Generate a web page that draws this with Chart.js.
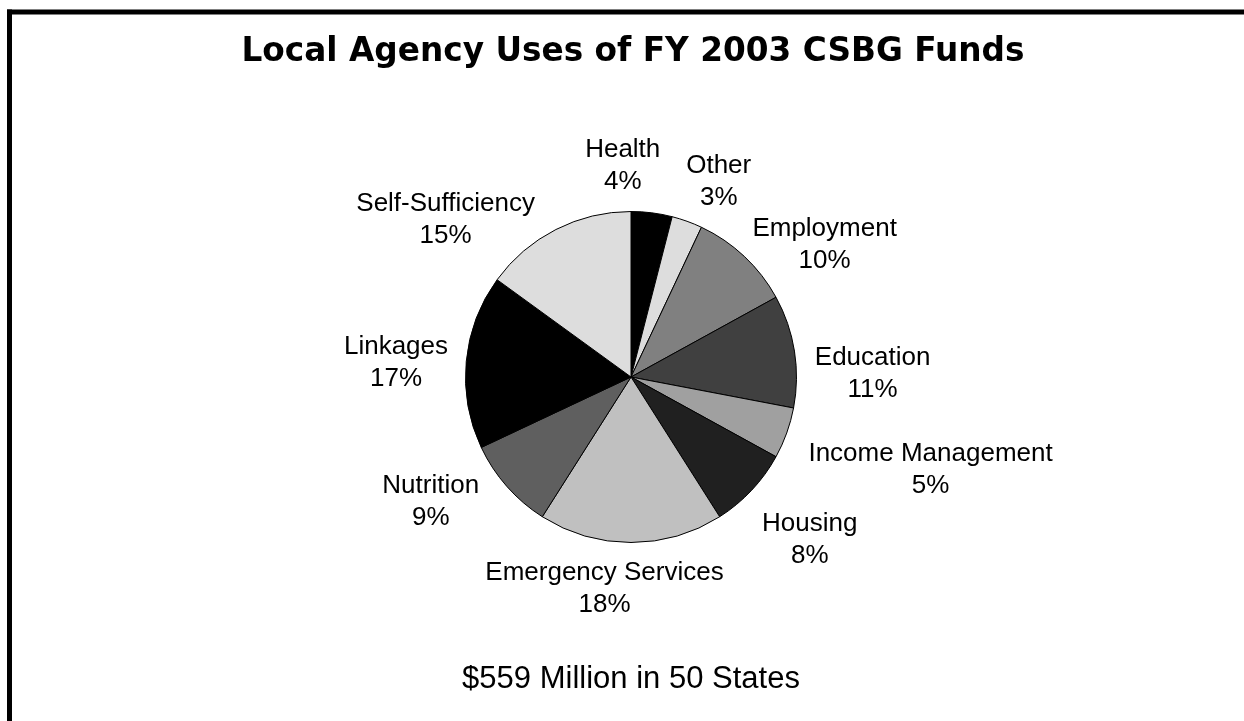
<!DOCTYPE html>
<html>
<head>
<meta charset="utf-8">
<title>Local Agency Uses of FY 2003 CSBG Funds</title>
<script src="https://cdn.jsdelivr.net/npm/chart.js@4"></script>
<style>
  html, body { margin: 0; padding: 0; background: #fff; overflow: hidden; }
  canvas { display: block; }
</style>
</head>
<body>
<canvas id="funds" width="1244" height="721"></canvas>
<script>
const categories = ['Health', 'Other', 'Employment', 'Education', 'Income Management',
  'Housing', 'Emergency Services', 'Nutrition', 'Linkages', 'Self-Sufficiency'];
const shares = [4, 3, 10, 11, 5, 8, 18, 9, 17, 15];
const sliceColors = ['#000000', '#dddddd', '#808080', '#404040', '#a0a0a0',
  '#202020', '#c0c0c0', '#5f5f5f', '#000000', '#dddddd'];

const titleText = 'Local Agency Uses of FY 2003 CSBG Funds';
const footText = '$559 Million in 50 States';

// where each label block sits, measured from the pie centre in radii
const labelSpots = [
  [-0.05, -1.29], [0.53, -1.19], [1.17, -0.81], [1.46, -0.03], [1.81, 0.55],
  [1.08, 0.97], [-0.16, 1.27], [-1.21, 0.74], [-1.42, -0.10], [-1.12, -0.96]
];

const canvas = document.getElementById('funds');

// frame, title, footer and the slice labels
const decorations = {
  id: 'decorations',
  beforeDraw(chart) {
    const ctx = chart.ctx;
    ctx.save();
    ctx.fillStyle = '#fff';
    ctx.fillRect(0, 0, chart.width, chart.height);
    ctx.fillStyle = '#000';
    ctx.fillRect(7, 9.5, chart.width, 5);
    ctx.fillRect(7, 9.5, 5, chart.height);
    ctx.restore();
  },
  afterDraw(chart) {
    const ctx = chart.ctx;
    const arc = chart.getDatasetMeta(0).data[0];
    const cx = arc.x, cy = arc.y, r = arc.outerRadius;
    ctx.save();
    ctx.fillStyle = '#000';
    ctx.textAlign = 'center';
    ctx.textBaseline = 'alphabetic';

    // title, fitted to the width of the original bold face
    ctx.font = 'bold 33px "DejaVu Sans"';
    const tw = ctx.measureText(titleText).width;
    ctx.save();
    ctx.translate(633, 61);
    ctx.scale(783 / tw, 1);
    ctx.fillText(titleText, 0, 0);
    ctx.restore();

    ctx.font = '31px "Liberation Sans", Arial, sans-serif';
    ctx.fillText(footText, cx, 688);

    ctx.font = '26px "Liberation Sans", Arial, sans-serif';
    categories.forEach((name, i) => {
      const [dx, dy] = labelSpots[i];
      const x = cx + dx * r;
      const y = cy + dy * r;
      ctx.fillText(name, x, y - 16 + 9.3);
      ctx.fillText(shares[i] + '%', x, y + 16 + 9.3);
    });
    ctx.restore();
  }
};

new Chart(canvas, {
  type: 'pie',
  data: {
    labels: categories,
    datasets: [{
      data: shares,
      backgroundColor: sliceColors,
      borderColor: '#000',
      borderWidth: 1
    }]
  },
  options: {
    responsive: false,
    animation: false,
    layout: { padding: { left: 465, right: 447, top: 211, bottom: 178 } },
    plugins: {
      legend: { display: false },
      title: { display: false },
      tooltip: { enabled: false }
    }
  },
  plugins: [decorations]
});
</script>
</body>
</html>
